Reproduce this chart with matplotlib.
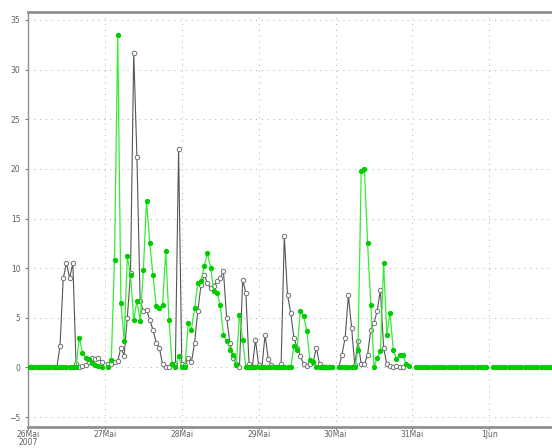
import numpy as np
import matplotlib
matplotlib.use("Agg")
import matplotlib.pyplot as plt

nan = np.nan

# hourly readings, one list per day (last day partial)
grey_days = [
    [0, 0, 0, 0, 0, 0, 0, 0, 0, 0, 2.2, 9.0, 10.5, 9.0, 10.5, 0.3,
     0, 0.1, 0.2, 0.5, 1.0, 0.8, 1.0, 0.5],
    [nan, 0.3, 0.3, 0.5, 0.6, 2.0, 1.2, 5.0, 9.5, 31.7, 21.2, 6.7,
     5.7, 5.8, 4.8, 3.8, 2.5, 2.0, 0.3, 0, 0, 0.3, 0.3, 22.0],
    [0.3, 0.2, 1.0, 0.5, 2.5, 5.7, 8.3, 9.3, 8.5, 8.0, 8.2, 8.7,
     9.0, 9.7, 5.0, 2.5, 1.0, 0.3, 0, 8.8, 7.5, 0.3, 0, 2.8],
    [0.2, 0, 3.3, 0.8, 0.2, 0, 0, 0.3, 13.2, 7.3, 5.5, 3.0,
     2.0, 1.2, 0.3, 0.1, 0.3, 0.5, 2.0, 0.3, 0, 0, 0, 0],
    [nan, 0, 1.3, 3.0, 7.3, 4.0, 0.2, 2.7, 0.3, 0.3, 1.3, 3.8,
     4.5, 5.7, 7.8, 2.0, 0.3, 0.1, 0, 0.1, 0, 0, nan, nan],
]

green_days = [
    [0, 0, 0, 0, 0, 0, 0, 0, 0, 0, 0, 0, 0, 0, 0, 0,
     3.0, 1.5, 1.0, 0.8, 0.4, 0.2, 0.1, 0],
    [nan, 0, 0.7, 10.8, 33.5, 6.5, 2.7, 11.2, 9.3, 4.8, 6.7, 4.7,
     9.8, 16.8, 12.5, 9.3, 6.2, 6.0, 6.3, 11.7, 4.8, 0.3, 0, 1.2],
    [0, 0, 4.5, 3.8, 6.0, 8.5, 8.7, 10.2, 11.5, 10.0, 7.7, 7.5,
     6.3, 3.3, 2.7, 1.8, 1.3, 0.2, 5.3, 2.8, 0, 0, 0, 0],
    [0, 0, 0, 0, 0, 0, 0, 0, 0, 0, 0, 2.2,
     1.8, 5.7, 5.2, 3.7, 0.7, 0.5, 0, 0, 0, 0, 0, 0],
    [nan, 0, 0, 0, 0, 0, 0, 1.8, 19.8, 20.0, 12.5, 6.3,
     0, 1.0, 1.7, 10.5, 3.3, 5.5, 1.8, 0.8, 1.3, 1.3, 0.3, 0.1],
    [nan, 0, 0, 0, 0, 0, 0, 0, 0, 0, 0, 0,
     0, 0, 0, 0, 0, 0, 0, 0, 0, 0, 0, 0],
    [nan, 0, 0, 0, 0, 0, 0, 0, 0, 0, 0, 0,
     0, 0, 0, 0, 0, 0, 0, 0],
]

day_labels = ["26Mai\n2007", "27Mai", "28Mai", "29Mai", "30Mai", "31Mai", "1Jun"]

green = np.concatenate([np.array(d, dtype=float) for d in green_days])
grey = np.concatenate([np.array(d, dtype=float) for d in grey_days])
t_green = np.arange(len(green))
t_grey = np.arange(len(grey))

fig = plt.figure(figsize=(5.52, 4.48), dpi=100)
ax = fig.add_axes([28 / 552, 21 / 448, 1.02 - 28 / 552, (427 - 12) / 448])

ax.plot(t_grey, grey, color="#555555", lw=0.8, marker="o", ms=3.2,
        mfc="white", mec="#707070", mew=0.7, zorder=3)
ax.plot(t_green, green, color="#33ee33", lw=0.9, marker="o", ms=2.8,
        mfc="#00cc00", mec="#00cc00", zorder=4)

ax.set_xlim(0, 167)
ax.set_ylim(-6.0, 35.8)
ax.set_yticks(range(-5, 36, 5))
ax.set_xticks(np.arange(len(day_labels)) * 24)
ax.set_xticklabels(day_labels)
ax.tick_params(labelsize=5.5, colors="#606060", length=2, width=0.6)
ax.tick_params(axis="x", pad=0.5)
for lab in ax.get_xticklabels():
    lab.set_linespacing(0.8)

ax.grid(True, ls=(0, (1, 5)), color="#aaaaaa", lw=0.7)
for side in ("top", "bottom", "left"):
    ax.spines[side].set_color("#909090")
ax.spines["top"].set_linewidth(2.0)
ax.spines["bottom"].set_linewidth(2.0)
ax.spines["left"].set_linewidth(1.0)
ax.spines["right"].set_visible(False)

fig.savefig("out.png", dpi=100)
